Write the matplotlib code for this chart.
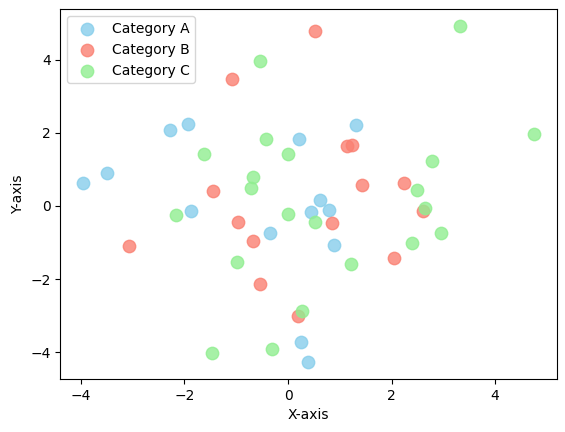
import matplotlib
matplotlib.use("Agg")
import matplotlib.pyplot as plt

a_x = [-3.96, -3.49, -2.28, -1.93, -1.87, -0.35, 0.21, 1.31, 0.44, 0.62, 0.79, 0.89, 0.25, 0.39]
a_y = [0.63, 0.90, 2.08, 2.25, -0.14, -0.74, 1.84, 2.22, -0.16, 0.16, -0.11, -1.07, -3.73, -4.27]

b_x = [0.53, -1.09, 1.13, 1.24, 1.43, 2.24, 2.61, -1.44, -0.96, -0.68, -3.08, -0.54, 0.19, 0.85, 2.05]
b_y = [4.79, 3.47, 1.64, 1.66, 0.57, 0.62, -0.15, 0.40, -0.45, -0.97, -1.10, -2.12, -3.01, -0.47, -1.41]

c_x = [3.33, 4.75, -0.54, -0.42, -1.62, -0.01, 2.79, -0.68, -0.72, 2.50, 2.65, -2.16, 0.00, 0.53, 2.40, 2.96, 1.22, -0.98, 0.26, -1.46, -0.31]
c_y = [4.92, 1.97, 3.97, 1.83, 1.42, 1.42, 1.22, 0.79, 0.48, 0.43, -0.06, -0.25, -0.22, -0.45, -1.02, -0.74, -1.59, -1.52, -2.86, -4.01, -3.92]

fig = plt.figure(figsize=(5.65, 4.32), dpi=100)
ax = fig.add_axes([0.107, 0.1227, 0.878, 0.856])
ax.scatter(a_x, a_y, s=80, c="skyblue", alpha=0.8, label="Category A")
ax.scatter(b_x, b_y, s=80, c="salmon", alpha=0.8, label="Category B")
ax.scatter(c_x, c_y, s=80, c="lightgreen", alpha=0.8, label="Category C")
ax.set_xlabel("X-axis")
ax.set_ylabel("Y-axis")
ax.legend(loc="upper left")
fig.savefig("out.png")
